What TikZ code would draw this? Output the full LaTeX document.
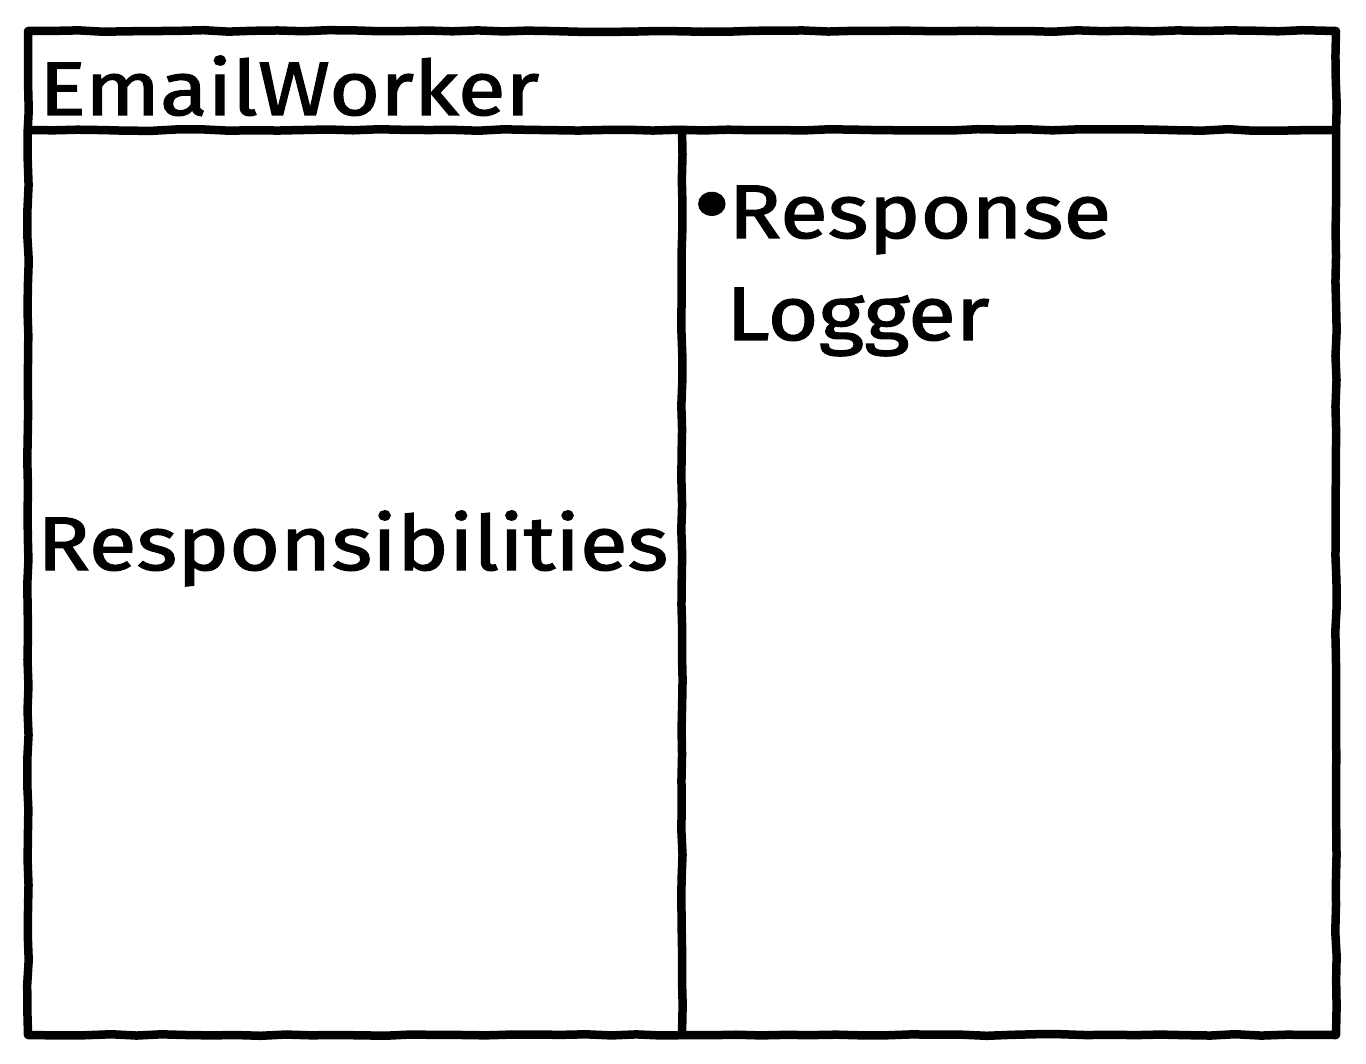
\documentclass[tikz,border=0pt]{standalone}
\usepackage{fontspec}
\setmainfont{Fira Sans}[FakeStretch=1.15,FakeBold=1.6]
\usetikzlibrary{decorations.pathmorphing}
\begin{document}
\begin{tikzpicture}[x=1pt,y=-1pt,
  frame/.style={line width=8.5pt,line join=round,line cap=round,
    decorate,decoration={random steps,segment length=25pt,amplitude=0.8pt}},
  lbl/.style={anchor=base west,inner sep=0pt,font=\fontsize{76}{80}\selectfont}]
\useasboundingbox (0,0) rectangle (1366,1064);
\draw[frame] (28,31) -- (1336,31) -- (1336,1035) -- (28,1035) -- cycle;
\draw[frame] (28,130) -- (1336,130);
\draw[frame] (682,130) -- (682,1035);
\node[lbl] (title) at (39,115) {EmailWorker};
\node[lbl] (resp) at (37,570) {Responsibilities};
\node[lbl] (collab1) at (693,238) {{\fontsize{100}{100}\selectfont•}\kern-2pt Response};
\node[lbl] (collab2) at (726,340) {Logger};
\end{tikzpicture}
\end{document}
